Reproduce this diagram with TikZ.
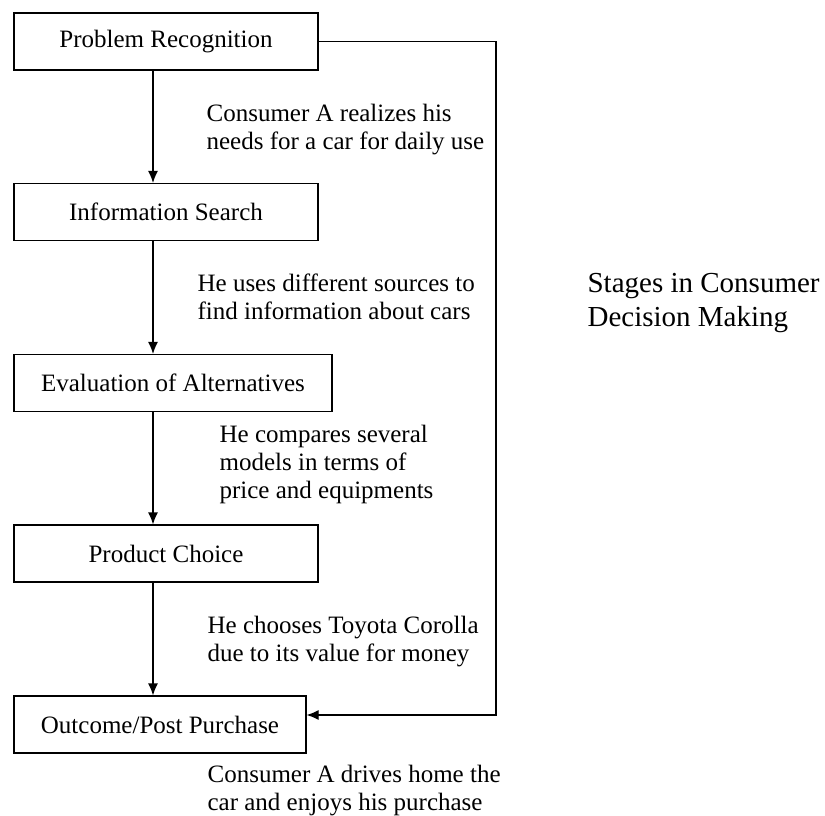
\documentclass[tikz,border=0pt]{standalone}
\usepackage{fontspec}
\setmainfont{Liberation Serif}
\usetikzlibrary{arrows.meta}

\begin{document}
\begin{tikzpicture}[x=1pt,y=1pt,line width=1.2pt,
  stage/.style={draw,inner sep=0pt,minimum height=57pt,font=\fontsize{25}{28}\selectfont},
  note/.style={anchor=north west,inner sep=0pt,align=left,font=\fontsize{25}{28}\selectfont},
  flow/.style={-{Latex[length=12pt,width=10pt]}}]
\useasboundingbox (0,0) rectangle (825,-816);
% stages
\node[stage,minimum width=304pt] (pr) at (166,-41.5) {Problem Recognition};
\node[stage,minimum width=304pt] (is) at (166,-212) {Information Search};
\node[stage,minimum width=318pt] (ea) at (173,-383) {Evaluation of Alternatives};
\node[stage,minimum width=304pt] (pc) at (166,-553.5) {Product Choice};
\node[stage,minimum width=292pt] (op) at (160,-724.5) {Outcome/Post Purchase};
% notes
\node[note] (n1) at (206,-104) {Consumer A realizes his\\needs for a car for daily use};
\node[note] (n2) at (197,-273) {He uses different sources to\\find information about cars};
\node[note] (n3) at (219,-425) {He compares several\\models in terms of\\price and equipments};
\node[note] (n4) at (207,-616) {He chooses Toyota Corolla\\due to its value for money};
\node[note] (n5) at (207,-765) {Consumer A drives home the\\car and enjoys his purchase};
\node[note,font=\fontsize{29}{34}\selectfont] (title) at (587,-273) {Stages in Consumer\\Decision Making};
% arrows
\coordinate (axis) at (153,0);
\coordinate (back) at (496,0);
\draw[flow] (pr.south -| axis) -- (is.north -| axis);
\draw[flow] (is.south -| axis) -- (ea.north -| axis);
\draw[flow] (ea.south -| axis) -- (pc.north -| axis);
\draw[flow] (pc.south -| axis) -- (op.north -| axis);
\draw[flow] (pr.east) -- (pr.east -| back) |- ([yshift=9.5pt]op.east);
\end{tikzpicture}
\end{document}
